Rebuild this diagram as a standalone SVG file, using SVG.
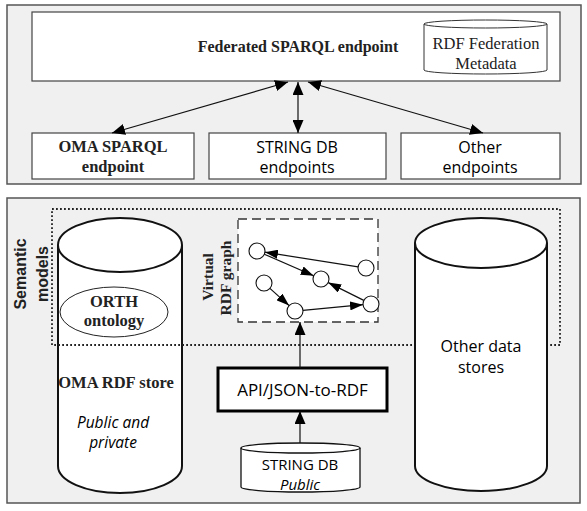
<svg xmlns="http://www.w3.org/2000/svg" width="587" height="511" viewBox="0 0 587 511">
<style>
.panel{fill:#f0f0f0;stroke:#555;stroke-width:1.5}
.box{fill:#fff;stroke:#444;stroke-width:1.2}
.cyl{fill:#fff;stroke:#111;stroke-width:2}
.serifb{font-family:"Liberation Serif",serif;font-weight:bold;fill:#222;text-anchor:middle}
.serif{font-family:"Liberation Serif",serif;fill:#222;text-anchor:middle}
.sans{font-family:"Open Sans","Liberation Sans",sans-serif;fill:#000;text-anchor:middle}
.sansb{font-family:"Liberation Sans",Arial,sans-serif;font-weight:bold;fill:#222;text-anchor:middle}
.edge{stroke:#111;stroke-width:1.2;fill:none}
.node{fill:#fff;stroke:#111;stroke-width:1.1}
</style>
<defs>
<marker id="ah" viewBox="0 0 13 11" refX="13" refY="5.5" markerWidth="13" markerHeight="11" markerUnits="userSpaceOnUse" orient="auto-start-reverse">
<path d="M0,0 L13,5.5 L0,11 Z" fill="#000"/>
</marker>
<marker id="ahs" viewBox="0 0 13 9" refX="13" refY="4.5" markerWidth="13" markerHeight="9" markerUnits="userSpaceOnUse" orient="auto">
<path d="M0,0 L13,4.5 L0,9 Z" fill="#000"/>
</marker>
</defs>

<rect class="panel" x="7" y="5" width="574" height="179"/>
<rect class="panel" x="7" y="198" width="573" height="305"/>

<g id="federated">
<rect class="box" x="32" y="12" width="528" height="69"/>
<text class="serifb" x="298" y="52" font-size="16">Federated SPARQL endpoint</text>
</g>
<g id="rdf-federation-metadata">
<path d="M424,24 A61.5,4 0 0 1 547,24 L547,70 A61.5,4 0 0 1 424,70 Z" fill="#fff" stroke="#333" stroke-width="1"/>
<path d="M424,24 A61.5,4 0 0 0 547,24" fill="none" stroke="#333" stroke-width="1"/>
<text class="serif" x="486" y="49" font-size="16.5">RDF Federation</text>
<text class="serif" x="486" y="69" font-size="16.5">Metadata</text>
</g>
<g id="oma-sparql">
<rect class="box" x="32" y="133" width="162" height="46"/>
<text class="serifb" x="113" y="152" font-size="16.5">OMA SPARQL</text>
<text class="serifb" x="113" y="172" font-size="16.5">endpoint</text>
</g>
<g id="string-endpoints">
<rect class="box" x="209" y="133" width="177" height="46"/>
<text class="sans" x="297" y="153" font-size="16">STRING DB</text>
<text class="sans" x="297" y="173" font-size="16">endpoints</text>
</g>
<g id="other-endpoints">
<rect class="box" x="401" y="133" width="159" height="46"/>
<text class="sans" x="480" y="153" font-size="16">Other</text>
<text class="sans" x="480" y="173" font-size="16">endpoints</text>
</g>

<text class="sansb" font-size="16" transform="translate(26,274) rotate(-90)">Semantic</text>
<text class="sansb" font-size="16" transform="translate(48,274) rotate(-90)">models</text>

<g id="oma-rdf-store">
<path class="cyl" d="M58,245 A62,27 0 0 1 182,245 L182,466 A62,27 0 0 1 58,466 Z"/>
<path class="cyl" fill="none" d="M58,245 A62,27 0 0 0 182,245"/>
<ellipse cx="114" cy="312" rx="54" ry="25" fill="#fff" stroke="#222" stroke-width="1"/>
<text class="serifb" x="114" y="307" font-size="16.5">ORTH</text>
<text class="serifb" x="114" y="326" font-size="16.5">ontology</text>
<text class="serifb" x="116" y="388" font-size="16.5">OMA RDF store</text>
<text class="sans" font-style="italic" x="113" y="428" font-size="15.5">Public and</text>
<text class="sans" font-style="italic" x="113" y="448" font-size="15.5">private</text>
</g>

<rect id="semantic-models" x="52" y="209" width="508" height="136" fill="none" stroke="#222" stroke-width="1.8" stroke-dasharray="1.8,2.2"/>

<g id="other-data-stores">
<path class="cyl" d="M415,243 A66,25 0 0 1 547,243 L547,466 A66,25 0 0 1 415,466 Z"/>
<path class="cyl" fill="none" d="M415,243 A66,25 0 0 0 547,243"/>
<text class="sans" x="481" y="352" font-size="16">Other data</text>
<text class="sans" x="481" y="373" font-size="16">stores</text>
</g>

<g id="virtual-rdf-graph">
<rect x="238" y="219" width="140" height="103" fill="#fff" stroke="#333" stroke-width="1.3" stroke-dasharray="9,5"/>
<text class="serifb" font-size="15.5" transform="translate(213,277) rotate(-90)">Virtual</text>
<text class="serifb" font-size="15.5" transform="translate(231,278) rotate(-90)">RDF graph</text>
<circle class="node" cx="257" cy="251" r="8"/>
<circle class="node" cx="366" cy="268" r="8"/>
<circle class="node" cx="321" cy="279" r="8"/>
<circle class="node" cx="264" cy="283" r="8"/>
<circle class="node" cx="295" cy="311" r="8"/>
<circle class="node" cx="371" cy="304" r="8"/>
</g>

<g id="api-json-to-rdf">
<rect x="218" y="368" width="169" height="43" fill="#fff" stroke="#000" stroke-width="3"/>
<text class="sans" x="302.5" y="396" font-size="17">API/JSON-to-RDF</text>
</g>

<g id="string-db">
<path d="M241,448 A59.5,5 0 0 1 360,448 L360,487 A59.5,5 0 0 1 241,487 Z" fill="#fff" stroke="#111" stroke-width="1.3"/>
<path d="M241,448 A59.5,5 0 0 0 360,448" fill="none" stroke="#111" stroke-width="1.3"/>
<text class="sans" x="300" y="470" font-size="15">STRING DB</text>
<text class="sans" font-style="italic" x="300" y="490" font-size="15">Public</text>
</g>

<g id="connectors">
<line class="edge" x1="288" y1="82" x2="112" y2="133" marker-start="url(#ah)" marker-end="url(#ah)"/>
<line class="edge" x1="298" y1="82" x2="298" y2="133" marker-start="url(#ah)" marker-end="url(#ah)"/>
<line class="edge" x1="308" y1="82" x2="483" y2="133" marker-start="url(#ah)" marker-end="url(#ah)"/>
<line class="edge" x1="300" y1="368" x2="300" y2="322" marker-end="url(#ah)"/>
<line class="edge" x1="300" y1="443" x2="300" y2="411" marker-end="url(#ah)"/>
<line class="edge" x1="358.1" y1="266.8" x2="264.9" y2="252.2" marker-end="url(#ahs)"/>
<line class="edge" x1="264.3" y1="254.2" x2="313.7" y2="275.8" marker-end="url(#ahs)"/>
<line class="edge" x1="363.8" y1="300.4" x2="328.2" y2="282.6" marker-end="url(#ahs)"/>
<line class="edge" x1="269.9" y1="288.4" x2="289.1" y2="305.6" marker-end="url(#ahs)"/>
<line class="edge" x1="303" y1="310.3" x2="363" y2="304.7" marker-end="url(#ahs)"/>
</g>
</svg>
